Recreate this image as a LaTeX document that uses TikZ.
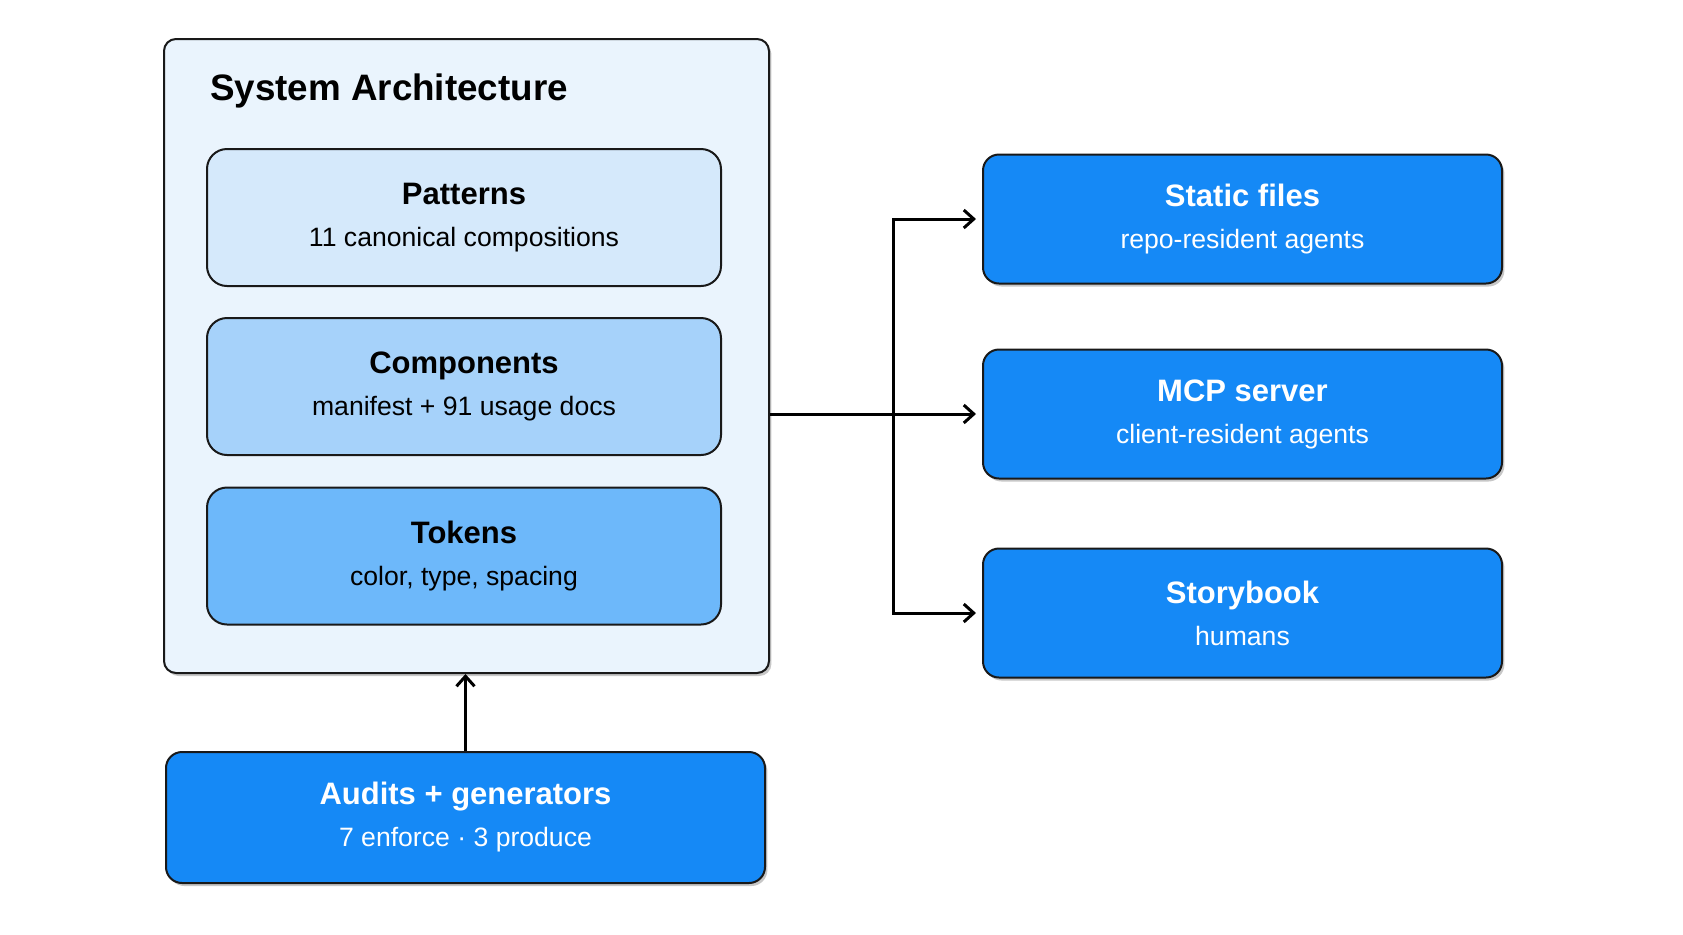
\documentclass[tikz,border=0pt]{standalone}
\usepackage{fontspec}
\setmainfont{Liberation Sans}
\usetikzlibrary{arrows.meta,shadows}
\definecolor{archfill}{HTML}{EAF4FD}
\definecolor{patfill}{HTML}{D5E9FB}
\definecolor{compfill}{HTML}{A6D2FA}
\definecolor{tokfill}{HTML}{6DB8FA}
\definecolor{bluefill}{HTML}{1589F6}
\newcommand\headfont{\fontsize{15.5}{18}\selectfont\bfseries}
\newcommand\subfont{\fontsize{13.3}{16}\selectfont}
\begin{document}
\begin{tikzpicture}[
  x=0.5pt, y=-0.5pt,
  soft shadow/.style={drop shadow={shadow xshift=1.2pt, shadow yshift=-1.5pt, opacity=0.22, fill=black}},
  layer box/.style={draw=black!90, line width=1pt, rounded corners=10pt, minimum width=257pt, minimum height=68.5pt, align=center, font=\subfont, text=black},
  output box/.style={draw=black!90, line width=1pt, rounded corners=8pt, fill=bluefill, soft shadow, minimum width=259.5pt, minimum height=64.5pt, align=center, font=\subfont, text=white},
  solid edge/.style={draw, line width=1.5pt, -{Straight Barb[length=5pt, width=9pt, line width=1.5pt]}}
]
\useasboundingbox (0,0) rectangle (1683,934);
% Define the nodes
\node[draw=black!90, line width=1pt, rounded corners=6pt, fill=archfill, soft shadow, minimum width=302.5pt, minimum height=317pt] (arch) at (466.5,356) {};
\node[anchor=base west, font=\fontsize{18.4}{22}\selectfont\bfseries] (title) at (203,100) {System Architecture};
\node[layer box, fill=patfill] (patterns) at (464,217.5) {{\headfont Patterns}\\[5pt]11 canonical compositions};
\node[layer box, fill=compfill] (components) at (464,386.5) {{\headfont Components}\\[5pt]manifest + 91 usage docs};
\node[layer box, fill=tokfill] (tokens) at (464,556) {{\headfont Tokens}\\[5pt]color, type, spacing};
\node[output box, minimum width=299.5pt, minimum height=65.5pt] (audits) at (465.5,817.5) {{\headfont Audits + generators}\\[5pt]7 enforce · 3 produce};
\node[output box] (static) at (1242.5,219) {{\headfont Static files}\\[5pt]repo-resident agents};
\node[output box] (mcp) at (1242.5,414) {{\headfont MCP server}\\[5pt]client-resident agents};
\node[output box] (story) at (1242.5,613) {{\headfont Storybook}\\[5pt]humans};
\coordinate (split) at (893,414);
% Define the edges
\draw[solid edge] (audits.north) -- (audits.north |- arch.south);
\draw[solid edge, shorten >=3pt] (arch.east |- mcp.west) -- (mcp.west);
\draw[solid edge, shorten >=3pt] (split) |- (static.west);
\draw[solid edge, shorten >=3pt] (split) |- (story.west);
\end{tikzpicture}
\end{document}
